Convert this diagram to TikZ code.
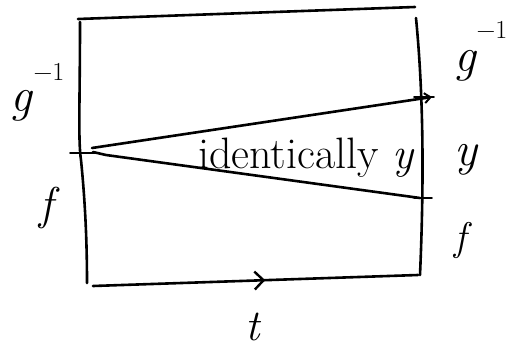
\documentclass[tikz,border=0pt]{standalone}
\usepackage{fontspec}
\usetikzlibrary{arrows.meta,decorations.markings}
\begin{document}
\begin{tikzpicture}[x=1pt,y=-1pt,
  ink/.style={line width=2.6pt,line cap=round,line join=round},
  thin ink/.style={line width=1.8pt,line cap=round},
  lbl/.style={inner sep=0pt,font=\fontsize{48}{48}\selectfont\itshape},
  sup/.style={inner sep=0pt,font=\fontsize{26}{26}\selectfont},
  txt/.style={inner sep=0pt,font=\fontsize{44}{44}\selectfont},
  midarrow/.style={postaction={decorate},decoration={markings,
      mark=at position #1 with {\arrow{Straight Barb[length=9pt,width=18pt,line width=2.4pt]}}}}
]
\useasboundingbox (0,0) rectangle (509,350);
% corners and points
\coordinate (TL) at (78,19);
\coordinate (TR) at (415,7);
\coordinate (RT) at (416,18);
\coordinate (RB) at (420,275);
\coordinate (BL) at (93,286);
\coordinate (BR) at (418,275);
\coordinate (LT) at (80,22);
\coordinate (LB) at (87,283);
\coordinate (P) at (92,148);
\coordinate (P2) at (93,152);
\coordinate (K) at (106,155);
\coordinate (Q) at (432,97);
\coordinate (S) at (420,198);
% box
\draw[ink] (TL) -- (TR);
\draw[ink] (RT) .. controls (422,80) and (425,160) .. (RB);
\draw[ink,midarrow=0.53] (BL) -- (BR);
\draw[ink] (LT) .. controls (80,100) and (78,140) .. (81,160) .. controls (85,200) and (87,240) .. (LB);
% ticks
\draw[thin ink] (70,153) -- (97,153);
\draw[thin ink] (414,97) -- (434,97);
\draw[thin ink] (414,198) -- (432,198);
% wedge lines
\draw[ink,-{Straight Barb[length=6pt,width=10pt,line width=2pt]}] (P) -- (Q);
\draw[ink] (P2) -- (K) -- (S);
% labels
\node[lbl] (gl) at (21,106) {g};
\node[sup] (gls) at (49,72) {−1};
\node[lbl,font=\fontsize{46}{46}\selectfont\itshape] (fl) at (46,208) {f};
\node[lbl] (gr) at (465,66) {g};
\node[sup] (grs) at (492,30) {−1};
\node[lbl] (yr) at (466,160) {y};
\node[lbl,font=\fontsize{40}{40}\selectfont\itshape] (fr) at (460,240) {f};
\node[txt,anchor=base west] (id) at (198,168) {identically \textit{y}};
\node[lbl,font=\fontsize{44}{44}\selectfont\itshape] (t) at (253,327) {t};
\end{tikzpicture}
\end{document}
